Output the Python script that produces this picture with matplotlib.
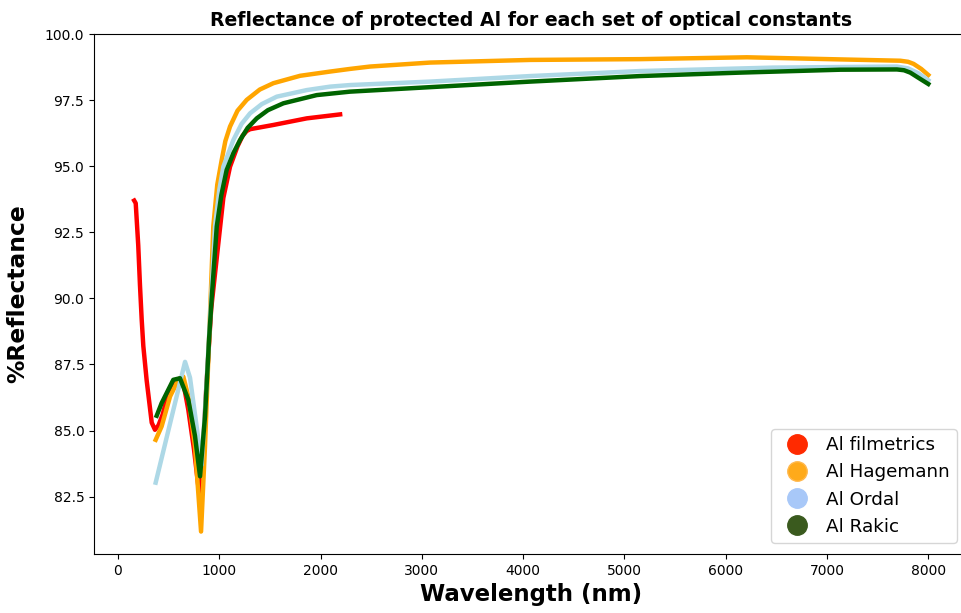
import numpy as np
import matplotlib.pyplot as plt
from matplotlib.lines import Line2D

# Reflectance (%) vs wavelength (nm) for each Al optical-constant set
wl_filmetrics = [160, 175, 200, 217, 234, 250, 283, 333, 365, 400, 440, 481, 550, 612,
                 650, 694, 750, 793, 810, 830, 870, 920, 991, 1040, 1106, 1180, 1230,
                 1270, 1304, 1534, 1864, 2193]
r_filmetrics = [93.7, 93.6, 92.0, 90.5, 89.2, 88.2, 86.9, 85.3, 85.03, 85.2, 85.6, 86.17,
                86.7, 86.98, 86.7, 85.79, 84.3, 82.9, 82.6, 83.5, 86.5, 89.6, 92.09, 93.8,
                94.98, 95.75, 96.15, 96.33, 96.40, 96.56, 96.81, 96.96]

wl_hagemann = [372, 431, 514, 596, 645, 694, 760, 820, 859, 909, 941, 980, 1024, 1060,
               1106, 1180, 1271, 1400, 1534, 1798, 2094, 2291, 2489, 3081, 4069, 5156,
               6209, 7131, 7723, 7800, 7855, 7930, 8000]
r_hagemann = [84.65, 85.16, 86.29, 86.92, 87.04, 86.29, 84.4, 81.18, 84.4, 89.44, 92.72,
              94.3, 95.24, 95.95, 96.50, 97.1, 97.51, 97.9, 98.14, 98.42, 98.58, 98.68,
              98.77, 98.92, 99.02, 99.05, 99.12, 99.04, 98.99, 98.95, 98.87, 98.68, 98.45]

wl_ordal = [372, 662, 711, 810, 826, 870, 958, 1000, 1040, 1139, 1220, 1304, 1420, 1567,
            1864, 2094, 2291, 3081, 4069, 5156, 6470, 7690, 7800, 7900, 8000]
r_ordal = [83.03, 87.6, 87.0, 84.2, 83.7, 86.5, 92.72, 94.1, 94.98, 95.99, 96.6, 97.0,
           97.35, 97.63, 97.88, 98.01, 98.07, 98.20, 98.41, 98.60, 98.73, 98.77, 98.7,
           98.52, 98.25]

wl_rakic = [382, 431, 546, 612, 694, 760, 810, 859, 900, 925, 975, 1020, 1073, 1140, 1205,
            1280, 1370, 1480, 1633, 1962, 2291, 3081, 4069, 5156, 6143, 7131, 7690, 7760,
            7822, 7900, 8000]
r_rakic = [85.56, 86.04, 86.92, 86.98, 86.17, 84.8, 83.27, 85.53, 88.5, 90.0, 92.72, 93.9,
           94.86, 95.5, 95.99, 96.45, 96.81, 97.12, 97.38, 97.69, 97.82, 97.99, 98.20, 98.41,
           98.54, 98.65, 98.66, 98.63, 98.54, 98.35, 98.11]

fig = plt.figure(figsize=(9.61, 6.13), dpi=100)
ax = fig.add_axes([0.0978, 0.0962, 0.9095, 0.8483])

ax.plot(wl_filmetrics, r_filmetrics, color='red', lw=3.2, solid_joinstyle='round')
ax.plot(wl_hagemann, r_hagemann, color='orange', lw=3.2, solid_joinstyle='round')
ax.plot(wl_ordal, r_ordal, color='lightblue', lw=3.2, solid_joinstyle='round')
ax.plot(wl_rakic, r_rakic, color='darkgreen', lw=3.2, solid_joinstyle='round')

ax.set_xlim(-237, 8392)
ax.set_ylim(80.33, 100.0)
ax.set_yticks(np.arange(82.5, 100.01, 2.5))
ax.spines['right'].set_visible(False)

ax.set_title('Reflectance of protected Al for each set of optical constants',
             fontsize=13.6, fontweight='bold')
ax.set_xlabel('Wavelength (nm)', fontsize=16.5, fontweight='bold')
ax.set_ylabel('%Reflectance', fontsize=16.8, fontweight='bold', labelpad=11)
ax.tick_params(labelsize=10)

handles = [
    Line2D([], [], ls='', marker='o', ms=14, color='#ff2a00', label='Al filmetrics'),
    Line2D([], [], ls='', marker='o', ms=14, color='#ffaa1a', mec='#ffb84d', label='Al Hagemann'),
    Line2D([], [], ls='', marker='o', ms=14, color='#a8c8f8', label='Al Ordal'),
    Line2D([], [], ls='', marker='o', ms=14, color='#3a5a1e', label='Al Rakic'),
]
ax.legend(handles=handles, loc='lower right', fontsize=13.2, handletextpad=0.6,
          borderaxespad=0.6)

fig.savefig('out.png', dpi=100)
